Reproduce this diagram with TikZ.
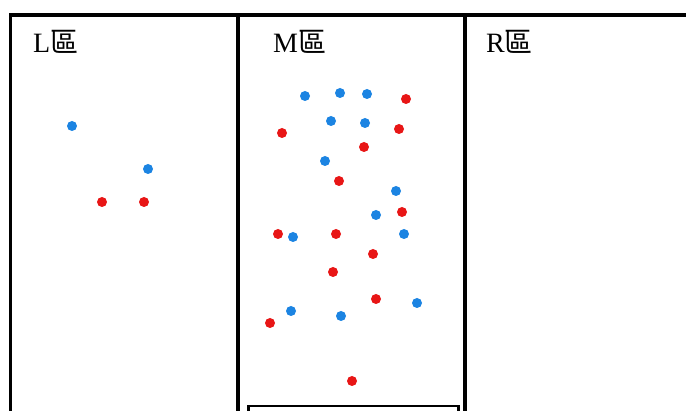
\documentclass[tikz,border=0pt]{standalone}
\usepackage{fontspec}
\setmainfont{Liberation Serif}
\newfontfamily\cjk{Noto Sans CJK TC}
\usepackage{xcolor}
\usepackage{tikz}
\usetikzlibrary{calc}

\definecolor{dotred}{RGB}{232,22,22}
\definecolor{dotblue}{RGB}{28,132,226}

\begin{document}
\begin{tikzpicture}[
        x=1pt, y=-1pt,
        % Walls of the three zones
        wall/.style={line width=3.6pt, line cap=rect},
        % Zone titles
        zonelabel/.style={
            anchor=base west,
            inner sep=0pt,
            font=\fontsize{28}{28}\selectfont
        },
        % Particles
        reddot/.style={circle, fill=dotred, minimum size=10pt, inner sep=0pt},
        bluedot/.style={circle, fill=dotblue, minimum size=10pt, inner sep=0pt}
    ]

    \useasboundingbox (0,0) rectangle (686,411);

    % ==========================================
    % FRAME
    % ==========================================
    \draw[wall] (10.5,411) -- (10.5,15) -- (690,15);
    \draw[wall] (238,15) -- (238,415);
    \draw[wall] (465,15) -- (465,415);
    \draw[line width=2.6pt] (248.5,415) -- (248.5,406) -- (458.5,406) -- (458.5,415);

    % Zone titles
    \node[zonelabel] (labelL) at (33,53) {L{\cjk 區}};
    \node[zonelabel] (labelM) at (273,53) {M{\cjk 區}};
    \node[zonelabel] (labelR) at (486,53) {R{\cjk 區}};

    % ==========================================
    % L ZONE
    % ==========================================
    \node[bluedot] (l_b1) at (72,126) {};
    \node[bluedot] (l_b2) at (148,169) {};
    \node[reddot] (l_r1) at (102,202) {};
    \node[reddot] (l_r2) at (144,202) {};

    % ==========================================
    % M ZONE
    % ==========================================
    % Blue particles
    \node[bluedot] (m_b1) at (305,96) {};
    \node[bluedot] (m_b2) at (340,93) {};
    \node[bluedot] (m_b3) at (367,94) {};
    \node[bluedot] (m_b4) at (331,121) {};
    \node[bluedot] (m_b5) at (365,123) {};
    \node[bluedot] (m_b6) at (325,161) {};
    \node[bluedot] (m_b7) at (396,191) {};
    \node[bluedot] (m_b8) at (376,215) {};
    \node[bluedot] (m_b9) at (293,237) {};
    \node[bluedot] (m_b10) at (404,234) {};
    \node[bluedot] (m_b11) at (417,303) {};
    \node[bluedot] (m_b12) at (291,311) {};
    \node[bluedot] (m_b13) at (341,316) {};

    % Red particles
    \node[reddot] (m_r1) at (406,99) {};
    \node[reddot] (m_r2) at (282,133) {};
    \node[reddot] (m_r3) at (399,129) {};
    \node[reddot] (m_r4) at (364,147) {};
    \node[reddot] (m_r5) at (339,181) {};
    \node[reddot] (m_r6) at (402,212) {};
    \node[reddot] (m_r7) at (278,234) {};
    \node[reddot] (m_r8) at (336,234) {};
    \node[reddot] (m_r9) at (373,254) {};
    \node[reddot] (m_r10) at (333,272) {};
    \node[reddot] (m_r11) at (376,299) {};
    \node[reddot] (m_r12) at (270,323) {};
    \node[reddot] (m_r13) at (352,381) {};

\end{tikzpicture}
\end{document}
